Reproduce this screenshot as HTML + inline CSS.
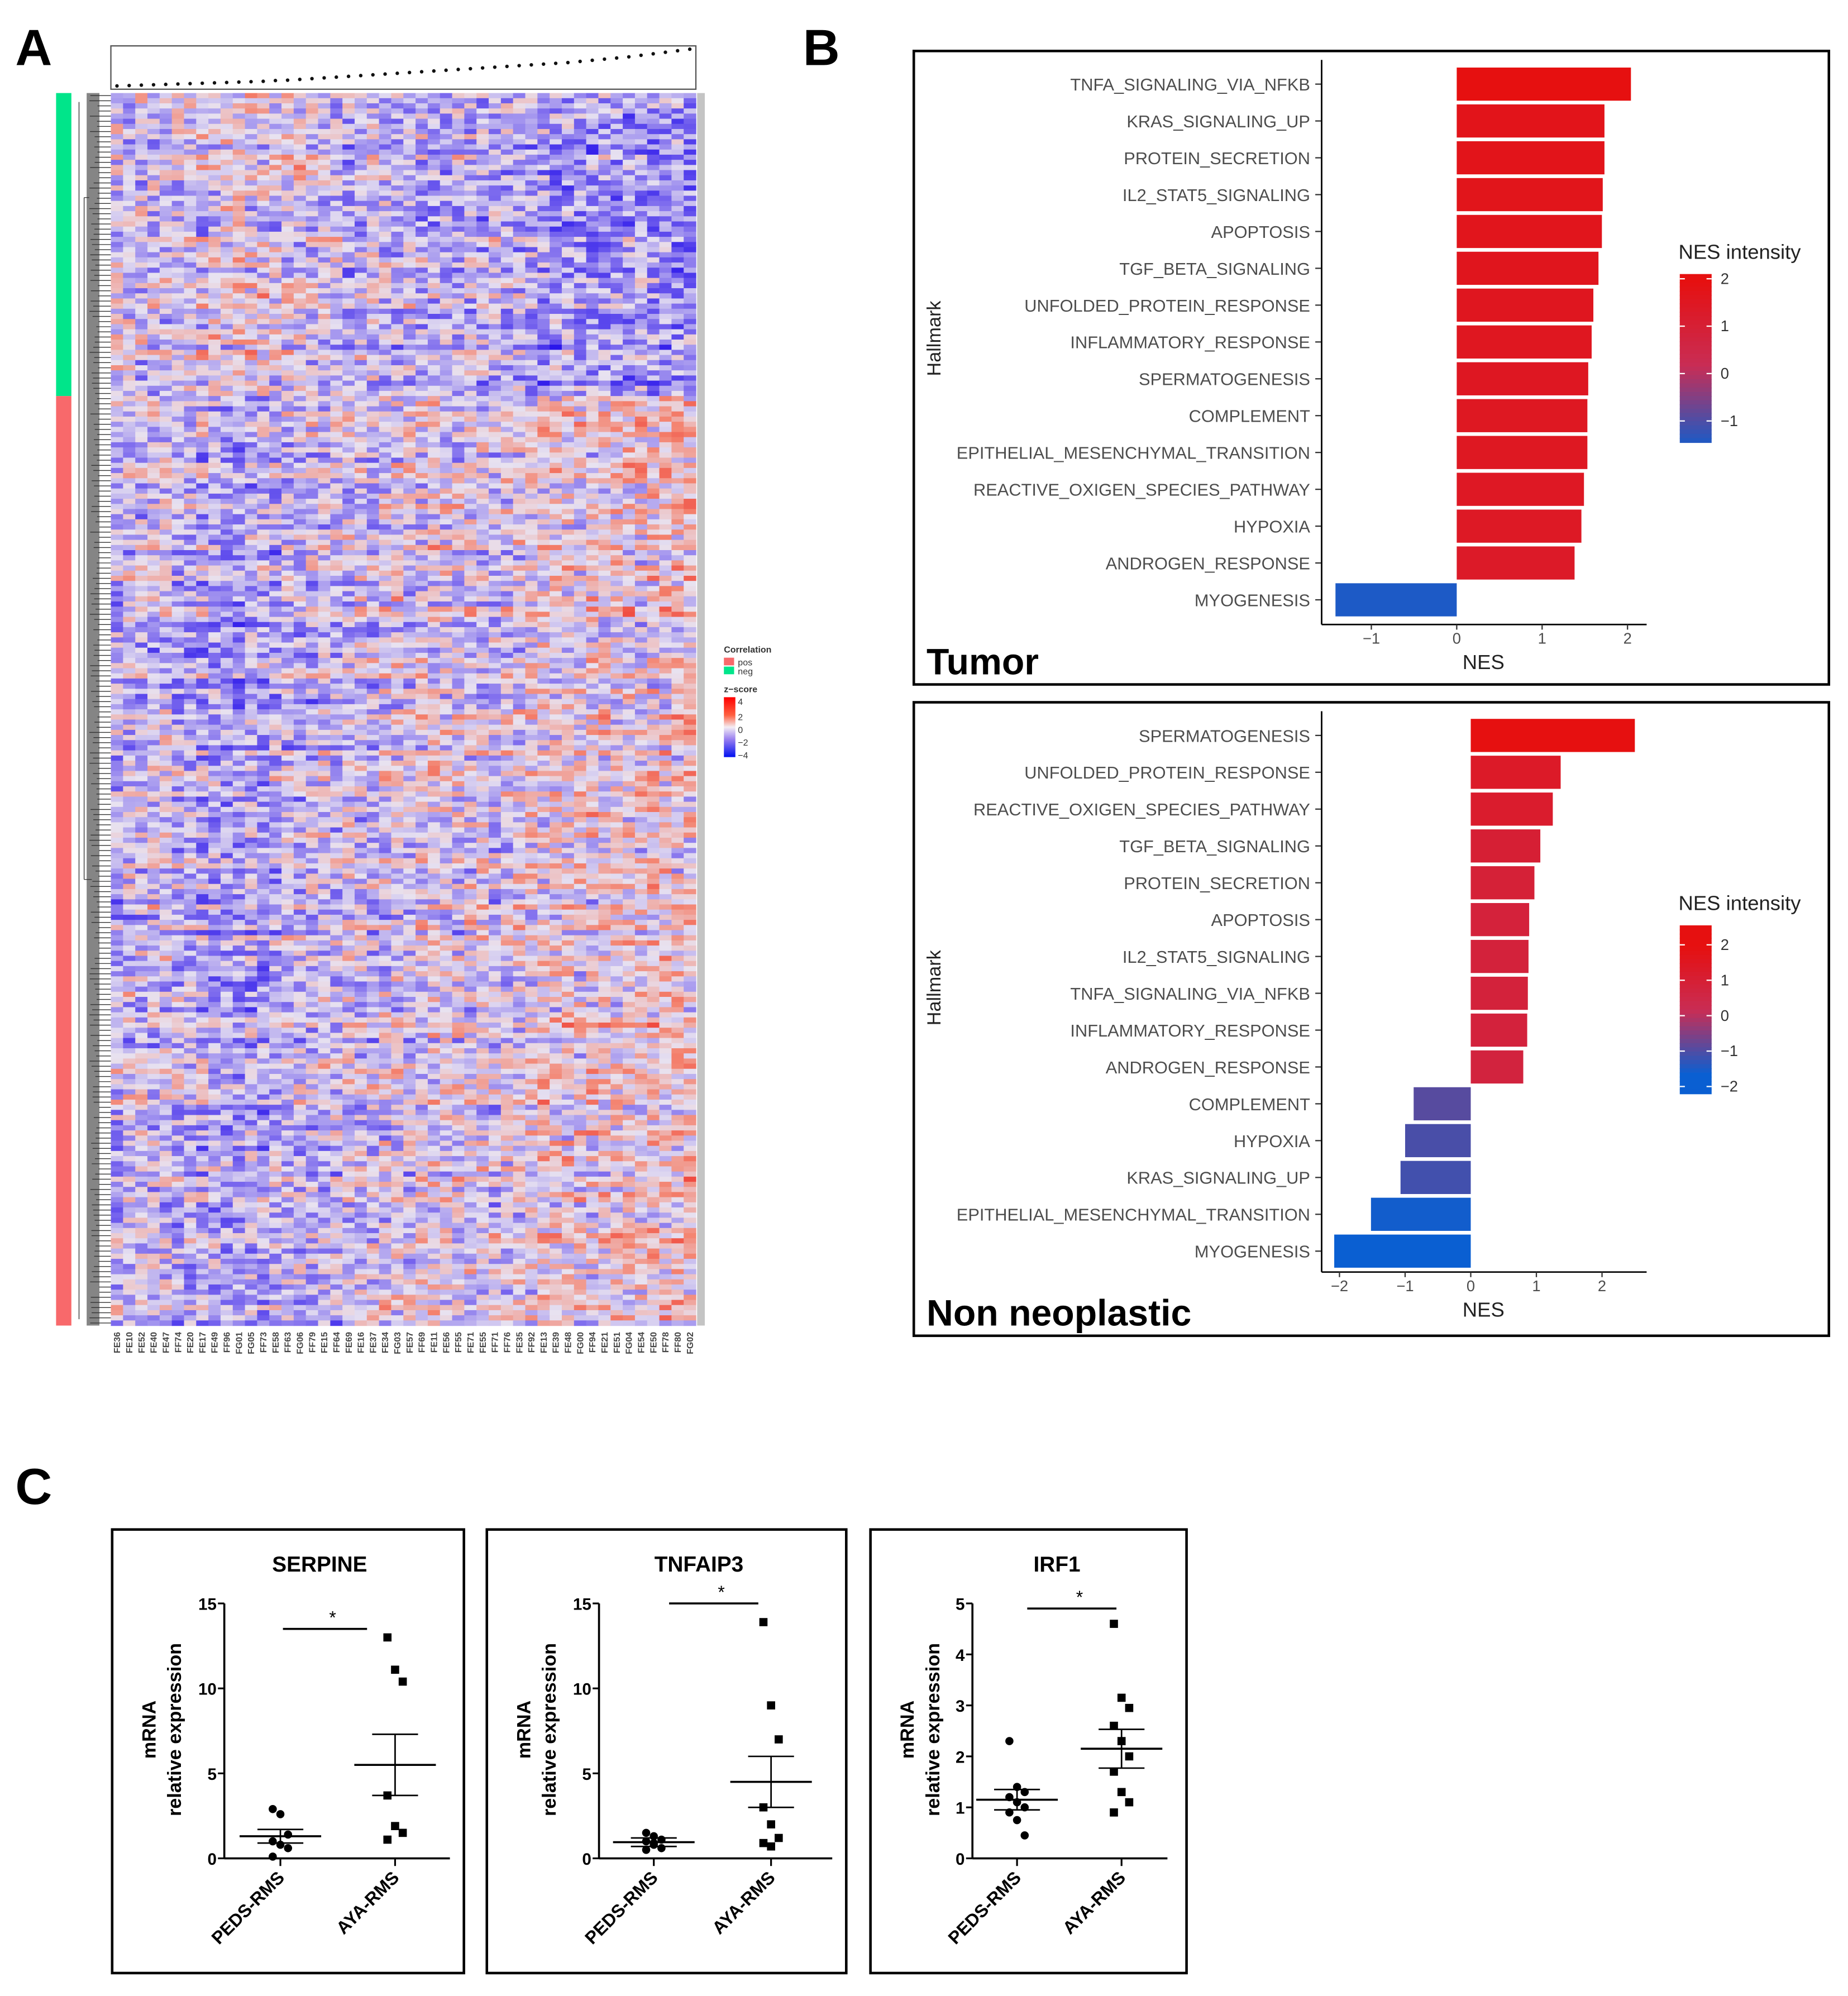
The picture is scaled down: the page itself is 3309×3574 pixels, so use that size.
<!DOCTYPE html>
<html><head><meta charset="utf-8"><style>
html,body{margin:0;padding:0;background:#fff}
svg{display:block}
text{font-family:"Liberation Sans",sans-serif}
</style></head><body>
<svg id="root" width="3309" height="3574" viewBox="0 0 1450 1566" preserveAspectRatio="none" xmlns="http://www.w3.org/2000/svg">
<rect x="0" y="0" width="1450" height="1566" fill="#fff"/>
<text x="12" y="51" font-size="40" font-weight="bold">A</text>
<text x="630" y="51" font-size="40" font-weight="bold">B</text>
<text x="12" y="1180" font-size="40" font-weight="bold">C</text>
<g id="heat"></g>
<g id="b1"></g>
<g id="b2"></g>
<g id="c1"></g>
<g id="c2"></g>
<g id="c3"></g>
</svg>
<script>
// ---------- data ----------
const heatCols = ["FE36","FE10","FE52","FE40","FE47","FF74","FE20","FE17","FE49","FF96","FG01","FG05","FF73","FE58","FF63","FG06","FF79","FE15","FF64","FE69","FE16","FE37","FE34","FG03","FE57","FF69","FE11","FE56","FF55","FE71","FE55","FF71","FF76","FE35","FF92","FE13","FE39","FE48","FG00","FF94","FE21","FE51","FG04","FE54","FE50","FF78","FF80","FG02"];
const colTrend = [-0.2,-0.1,0.0,-0.1,0.1,-0.2,-0.3,-0.3,-0.4,-0.5,-0.6,-0.3,-0.4,-0.3,-0.2,-0.2,-0.1,0.0,-0.1,0.2,0.0,-0.1,0.1,0.3,0.1,0.2,0.3,0.3,0.2,0.3,0.3,0.0,0.3,0.3,0.4,0.5,0.6,0.5,0.4,0.5,0.5,0.5,0.6,0.5,0.6,0.7,0.7,0.8];
const topDots = [0.02,0.03,0.04,0.05,0.06,0.07,0.08,0.09,0.10,0.11,0.12,0.13,0.14,0.16,0.17,0.19,0.21,0.23,0.25,0.27,0.29,0.31,0.33,0.35,0.37,0.39,0.41,0.43,0.45,0.47,0.49,0.51,0.53,0.55,0.57,0.59,0.61,0.63,0.66,0.69,0.72,0.75,0.78,0.82,0.86,0.90,0.94,0.98];
const heatRowsN = 240, negRows = 59;

const b1Cats = ["TNFA_SIGNALING_VIA_NFKB","KRAS_SIGNALING_UP","PROTEIN_SECRETION","IL2_STAT5_SIGNALING","APOPTOSIS","TGF_BETA_SIGNALING","UNFOLDED_PROTEIN_RESPONSE","INFLAMMATORY_RESPONSE","SPERMATOGENESIS","COMPLEMENT","EPITHELIAL_MESENCHYMAL_TRANSITION","REACTIVE_OXIGEN_SPECIES_PATHWAY","HYPOXIA","ANDROGEN_RESPONSE","MYOGENESIS"];
const b1Vals = [2.04,1.73,1.73,1.71,1.70,1.66,1.60,1.58,1.54,1.53,1.53,1.49,1.46,1.38,-1.42];
const b1Ticks = [-1,0,1,2];
const b1Leg = [2,1,0,-1];

const b2Cats = ["SPERMATOGENESIS","UNFOLDED_PROTEIN_RESPONSE","REACTIVE_OXIGEN_SPECIES_PATHWAY","TGF_BETA_SIGNALING","PROTEIN_SECRETION","APOPTOSIS","IL2_STAT5_SIGNALING","TNFA_SIGNALING_VIA_NFKB","INFLAMMATORY_RESPONSE","ANDROGEN_RESPONSE","COMPLEMENT","HYPOXIA","KRAS_SIGNALING_UP","EPITHELIAL_MESENCHYMAL_TRANSITION","MYOGENESIS"];
const b2Vals = [2.5,1.37,1.25,1.06,0.97,0.89,0.88,0.87,0.86,0.80,-0.87,-1.0,-1.07,-1.52,-2.08];
const b2Ticks = [-2,-1,0,1,2];
const b2Leg = [2,1,0,-1,-2];

const groups = ["PEDS-RMS","AYA-RMS"];
const c1Peds = [2.9,2.6,1.4,1.0,0.8,0.6,0.1];
const c1Aya = [13.0,11.1,10.4,3.7,1.9,1.5,1.1];
const c1Mean = [1.3,5.5], c1Sem = [0.4,1.8];
const c2Peds = [1.5,1.3,1.1,1.0,0.8,0.6,0.5,0.9];
const c2Aya = [13.9,9.0,7.0,3.0,2.0,1.2,0.9,0.7];
const c2Mean = [0.95,4.5], c2Sem = [0.25,1.5];
const c3Peds = [2.3,1.4,1.3,1.2,1.1,1.0,0.9,0.75,0.45];
const c3Aya = [4.6,3.15,2.95,2.6,2.3,2.0,1.7,1.3,1.1,0.9];
const c3Mean = [1.15,2.15], c3Sem = [0.2,0.38];

// ---------- helpers ----------
const NS="http://www.w3.org/2000/svg";
function mk(parent,tag,attrs,txt){const e=document.createElementNS(NS,tag);for(const k in attrs)e.setAttribute(k,attrs[k]);if(txt!==undefined)e.textContent=txt;parent.appendChild(e);return e;}
function lerp(a,b,t){return a+(b-a)*t;}
function mix(c1,c2,t){return "rgb("+Math.round(lerp(c1[0],c2[0],t))+","+Math.round(lerp(c1[1],c2[1],t))+","+Math.round(lerp(c1[2],c2[2],t))+")";}
function zcol(z){
  if(z>=0){ if(z<2) return mix([232,226,240],[244,130,110],z/2); return mix([244,130,110],[235,20,20],Math.min(1,(z-2)/2)); }
  z=-z; if(z<2) return mix([232,226,240],[130,112,238],z/2); return mix([130,112,238],[40,20,235],Math.min(1,(z-2)/2));
}
function hash(i,j){let h=(i*374761393+j*668265263)^0x5bd1e995;h=(h^(h>>>13))*1274126177;h=h^(h>>>16);return ((h>>>0)%10000)/10000;}

// ---------- panel A heatmap ----------
(function(){
  const g=document.getElementById('heat');
  const x0=87,x1=546,y0=73,y1=1040;
  const cw=(x1-x0)/heatCols.length, rh=(y1-y0)/heatRowsN;
  const box=mk(g,'rect',{x:87,y:36,width:459,height:34,fill:'none',stroke:'#555','stroke-width':1});
  
  topDots.forEach((v,j)=>{const d=mk(g,'circle',{cx:x0+cw*(j+0.5),cy:68-v*30,r:1.4,fill:'#111'});
    });
  const sideNeg=mk(g,'rect',{x:44,y:y0,width:12,height:rh*negRows,fill:'#00E58A'});
  
  const sidePos=mk(g,'rect',{x:44,y:y0+rh*negRows,width:12,height:(y1-y0)-rh*negRows,fill:'#F8696B'});
  
  const den=mk(g,'g',{stroke:'#333','stroke-width':0.6,fill:'none'});
  
  for(let i=0;i<heatRowsN;i+=1){const y=y0+rh*(i+0.5);mk(den,'line',{x1:70+ (hash(i,99)*8),y1:y,x2:87,y2:y});}
  mk(den,'path',{d:'M66 155 V690 M62 80 V1035 M66 155 H70 M66 690 H72'});
  mk(g,'rect',{x:68,y:y0,width:10,height:y1-y0,fill:'#333',opacity:0.6});
  const cells=mk(g,'g',{});
  
  for(let i=0;i<heatRowsN;i++){
    const sign=i<negRows?-1:1;
    const rowOff=(hash(i,7)-0.5)*1.4;
    for(let j=0;j<heatCols.length;j++){
      const n=(hash(i,j)-0.5)*3.4+(hash(i>>2,j+50)-0.5)*1.0;
      const z=sign*colTrend[j]*1.3+rowOff+n-0.45;
      mk(cells,'rect',{x:(x0+cw*j).toFixed(2),y:(y0+rh*i).toFixed(2),width:(cw+0.3).toFixed(2),height:(rh+0.3).toFixed(2),fill:zcol(z)});
    }
  }
  mk(g,'rect',{x:547,y:y0,width:6,height:y1-y0,fill:'#c4c4c4'});
  heatCols.forEach((c,j)=>{
    const x=x0+cw*(j+0.5);
    const t=mk(g,'text',{x:x+2.5,y:1045,'font-size':7,'font-weight':'bold',fill:'#444','text-anchor':'end',transform:'rotate(-90 '+(x+2.5)+' 1045)'},c);
    
  });
  const lg=mk(g,'g',{});
  
  mk(lg,'text',{x:568,y:512,'font-size':7,'font-weight':'bold',fill:'#333'},'Correlation');
  mk(lg,'rect',{x:568,y:516,width:8,height:6,fill:'#F8696B'});
  mk(lg,'text',{x:579,y:522,'font-size':7,fill:'#333'},'pos');
  mk(lg,'rect',{x:568,y:523,width:8,height:6,fill:'#00E58A'});
  mk(lg,'text',{x:579,y:529,'font-size':7,fill:'#333'},'neg');
  mk(lg,'text',{x:568,y:543,'font-size':7,'font-weight':'bold',fill:'#333'},'z−score');
  const defs=mk(g,'defs',{});
  const gr=mk(defs,'linearGradient',{id:'zg',x1:0,y1:0,x2:0,y2:1});
  [['0','#f00'],['0.3','#ff6040'],['0.5','#f4eef4'],['0.7','#9a80f0'],['1','#0010f0']].forEach(s=>mk(gr,'stop',{offset:s[0],'stop-color':s[1]}));
  mk(lg,'rect',{x:568,y:547,width:9,height:47,fill:'url(#zg)'});
  [['4',551],['2',563],['0',573],['−2',583],['−4',593]].forEach(a=>mk(lg,'text',{x:579,y:a[1]+2,'font-size':7,fill:'#333'},a[0]));
})();

// ---------- panel B ----------
function nesColor(v){
  const t=Math.max(0,Math.min(1,(v+1.6)/3.6));
  if(t>0.5) return mix([200,45,85],[230,16,16],(t-0.5)/0.5);
  return mix([10,95,210],[200,45,85],t/0.5);
}
function nesChart(id,box,cats,vals,ticks,leg,zeroX,unit,axisTop,axisBottom,title,legTop,legBot,legMin,legMax){
  const g=document.getElementById(id);
  const fr=mk(g,'rect',{x:box[0],y:box[1],width:box[2],height:box[3],fill:'none',stroke:'#000','stroke-width':2});
  
  const xs=v=>zeroX+v*unit;
  const rowH=28.9, y0=axisTop+19;
  cats.forEach((c,i)=>{
    const y=y0+rowH*i;
    const x=Math.min(xs(0),xs(vals[i])),w=Math.abs(xs(vals[i])-xs(0));
    const b=mk(g,'rect',{x:x,y:y-13,width:w,height:26,fill:nesColor(vals[i])});
    
    const t=mk(g,'text',{x:1028,y:y+5,'font-size':13.5,fill:'#4d4d4d','text-anchor':'end'},c);
    
    mk(g,'line',{x1:1032,y1:y,x2:1037,y2:y,stroke:'#333','stroke-width':1});
  });
  const ya=mk(g,'line',{x1:1037,y1:axisTop,x2:1037,y2:axisBottom,stroke:'#000','stroke-width':1.2});
  
  const xa=mk(g,'line',{x1:1037,y1:axisBottom,x2:1292,y2:axisBottom,stroke:'#000','stroke-width':1.2});
  
  ticks.forEach(v=>{mk(g,'line',{x1:xs(v),y1:axisBottom,x2:xs(v),y2:axisBottom+4,stroke:'#333'});
    const t=mk(g,'text',{x:xs(v),y:axisBottom+15,'font-size':12,fill:'#4d4d4d','text-anchor':'middle'},v<0?'−'+(-v):String(v));
    });
  const xt=mk(g,'text',{x:1164,y:axisBottom+35,'font-size':16,fill:'#222','text-anchor':'middle'},'NES');
  
  const cy=(axisTop+axisBottom)/2-3;
  const yt=mk(g,'text',{x:738,y:cy,'font-size':15,fill:'#222','text-anchor':'middle',transform:'rotate(-90 738 '+cy+')'},'Hallmark');
  
  const tt=mk(g,'text',{x:box[0]+10,y:box[1]+box[3]-8,'font-size':29,'font-weight':'bold',fill:'#000'},title);
  
  const lg=mk(g,'g',{});
  
  mk(lg,'text',{x:1317,y:legTop-12,'font-size':16,fill:'#222'},'NES intensity');
  const steps=40;
  for(let k=0;k<steps;k++){const v=legMax-(legMax-legMin)*k/steps;
    mk(lg,'rect',{x:1318,y:legTop+(legBot-legTop)*k/steps,width:25,height:(legBot-legTop)/steps+0.5,fill:nesColor(v)});}
  leg.forEach(v=>{const y=legTop+(legBot-legTop)*(legMax-v)/(legMax-legMin);
    mk(lg,'line',{x1:1318,y1:y,x2:1322,y2:y,stroke:'#fff'});mk(lg,'line',{x1:1339,y1:y,x2:1343,y2:y,stroke:'#fff'});
    mk(lg,'text',{x:1350,y:y+4,'font-size':12,fill:'#333'},v<0?'−'+(-v):String(v));});
}
nesChart('b1',[717,40,718,497],b1Cats,b1Vals,b1Ticks,b1Leg,1143,67,47,490,'Tumor',215,347,-1.45,2.1);
nesChart('b2',[717,551,718,497],b2Cats,b2Vals,b2Ticks,b2Leg,1154,51.5,558,998,'Non neoplastic',726,858,-2.2,2.55);

// ---------- panel C ----------
function dotPlot(id,box,title,peds,aya,mean,sem,yMax,yTicks,axX,axEnd,gx,sigBar){
  const g=document.getElementById(id);
  const fr=mk(g,'rect',{x:box[0],y:box[1],width:box[2],height:box[3],fill:'none',stroke:'#000','stroke-width':2});
  
  const t=mk(g,'text',{x:box[0]+box[2]*0.59,y:1233,'font-size':17,'font-weight':'bold','text-anchor':'middle'},title);
  
  const yTop=1258,yBot=1458;
  const ys=v=>yBot-(yBot-yTop)*v/yMax;
  const ya=mk(g,'line',{x1:axX,y1:yTop,x2:axX,y2:yBot,stroke:'#000','stroke-width':1.6});
  
  const xa=mk(g,'line',{x1:axX,y1:yBot,x2:axEnd,y2:yBot,stroke:'#000','stroke-width':1.6});
  
  yTicks.forEach(v=>{mk(g,'line',{x1:axX-5,y1:ys(v),x2:axX,y2:ys(v),stroke:'#000','stroke-width':1.4});
    const tl=mk(g,'text',{x:axX-6,y:ys(v)+5,'font-size':13,'font-weight':'bold','text-anchor':'end'},String(v));
    });
  const cy=1357;
  const y1=mk(g,'text',{x:box[0]+34,y:cy,'font-size':15,'font-weight':'bold','text-anchor':'middle',transform:'rotate(-90 '+(box[0]+34)+' '+cy+')'},'mRNA');
  
  const y2=mk(g,'text',{x:box[0]+54,y:cy,'font-size':15,'font-weight':'bold','text-anchor':'middle',transform:'rotate(-90 '+(box[0]+54)+' '+cy+')'},'relative expression');
  
  groups.forEach((gname,k)=>{
    const x=gx[k];
    mk(g,'line',{x1:x,y1:yBot,x2:x,y2:yBot+6,stroke:'#000','stroke-width':1.4});
    const lab=mk(g,'text',{x:x+4,y:yBot+16,'font-size':14,'font-weight':'bold','text-anchor':'end',transform:'rotate(-45 '+(x+4)+' '+(yBot+16)+')'},gname);
    
    const pts=k===0?peds:aya;
    pts.forEach((v,i)=>{
      const off=((i%3)-1)*6;
      let e;
      if(k===0) e=mk(g,'circle',{cx:x+off,cy:ys(v),r:3.2,fill:'#000'});
      else e=mk(g,'rect',{x:x+off-3.2,y:ys(v)-3.2,width:6.4,height:6.4,fill:'#000'});
      
    });
    const m=mk(g,'line',{x1:x-32,y1:ys(mean[k]),x2:x+32,y2:ys(mean[k]),stroke:'#000','stroke-width':1.6});
    
    mk(g,'line',{x1:x,y1:ys(mean[k]-sem[k]),x2:x,y2:ys(mean[k]+sem[k]),stroke:'#000','stroke-width':1.2});
    [mean[k]-sem[k],mean[k]+sem[k]].forEach(v=>mk(g,'line',{x1:x-18,y1:ys(v),x2:x+18,y2:ys(v),stroke:'#000','stroke-width':1.2}));
  });
  const sb=mk(g,'line',{x1:sigBar[0],y1:sigBar[2],x2:sigBar[1],y2:sigBar[2],stroke:'#000','stroke-width':1.6});
  
  const st=mk(g,'text',{x:(sigBar[0]+sigBar[1])/2+6,y:sigBar[2]-4,'font-size':14,'text-anchor':'middle'},'*');
  
}
dotPlot('c1',[88,1200,276,348],'SERPINE',c1Peds,c1Aya,c1Mean,c1Sem,15,[0,5,10,15],176,353,[220,310],[222,288,1278]);
dotPlot('c2',[382,1200,282,348],'TNFAIP3',c2Peds,c2Aya,c2Mean,c2Sem,15,[0,5,10,15],470,653,[513,605],[525,595,1258]);
dotPlot('c3',[683,1200,248,348],'IRF1',c3Peds,c3Aya,c3Mean,c3Sem,5,[0,1,2,3,4,5],763,916,[798,880],[806,876,1262]);
</script>
</body></html>
